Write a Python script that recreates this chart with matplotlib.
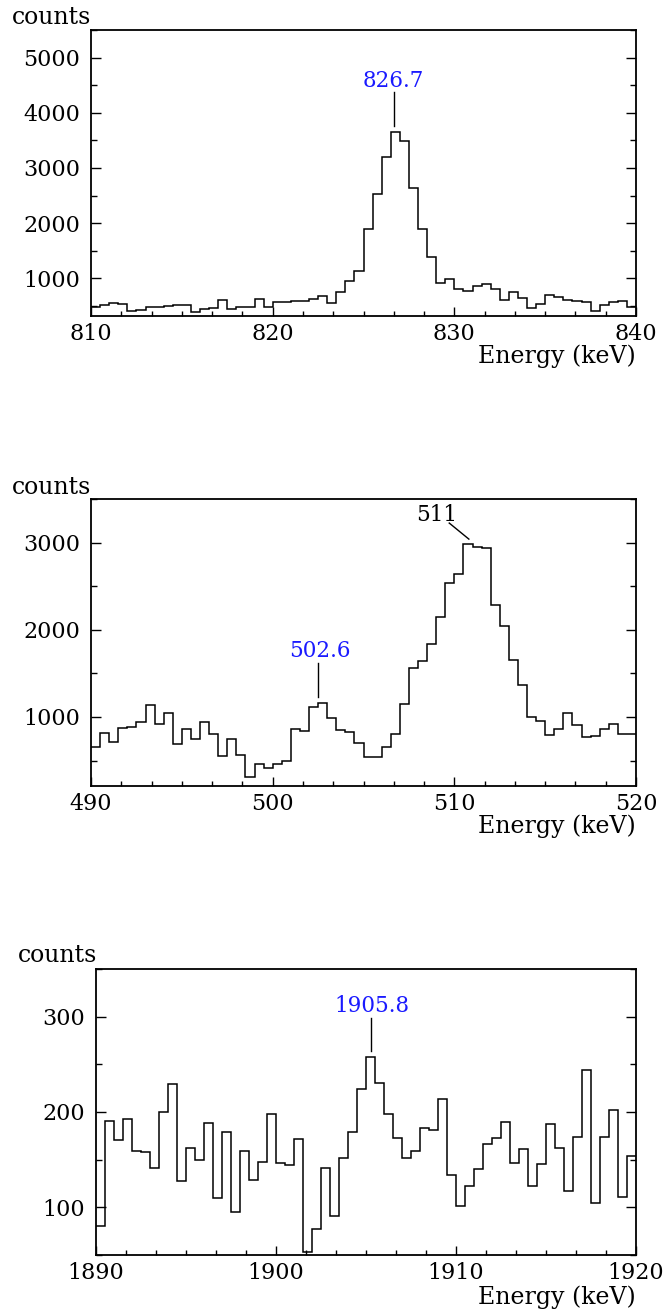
"""
Three gamma-ray spectrum panels (counts vs energy), ROOT-style histograms.
"""

import numpy as np
import matplotlib
matplotlib.use('Agg')
import matplotlib.pyplot as plt
from matplotlib.ticker import MultipleLocator, AutoMinorLocator

plt.rcParams['font.family'] = ['DejaVu Serif']

# Panel 1: 810-840 keV, 0.5 keV bins
range1 = (810, 840)
counts1 = [475, 517, 559, 535, 408, 426, 475, 475, 499, 511,
           511, 384, 438, 456, 607, 438, 475, 487, 619, 487,
           577, 577, 583, 589, 619, 680, 547, 758, 958, 1133,
           1888, 2528, 3199, 3658, 3495, 2631, 1900, 1393, 915, 994,
           801, 777, 867, 897, 801, 607, 758, 638, 468, 535,
           698, 656, 607, 589, 577, 414, 517, 577, 595, 487]

# Panel 2: 490-520 keV
range2 = (490, 520)
counts2 = [652, 820, 709, 870, 889, 939, 1134, 916, 1050, 686,
           858, 751, 939, 801, 552, 751, 564, 307, 460, 414,
           460, 499, 866, 843, 1119, 1157, 985, 851, 824, 700,
           544, 544, 652, 801, 1145, 1567, 1643, 1835, 2145, 2535,
           2642, 2983, 2945, 2933, 2286, 2045, 1655, 1367, 1004, 954,
           793, 862, 1042, 904, 766, 786, 862, 916, 809, 809]

# Panel 3: 1890-1920 keV
range3 = (1890, 1920)
counts3 = [80, 191, 171, 193, 159, 158, 141, 200, 229, 128,
           162, 150, 188, 110, 179, 95, 159, 129, 148, 198,
           147, 144, 172, 53, 77, 141, 91, 152, 179, 224,
           258, 230, 198, 173, 152, 159, 183, 181, 214, 134,
           101, 122, 140, 166, 173, 190, 147, 161, 122, 145,
           187, 162, 117, 174, 244, 105, 174, 202, 111, 154]

W, H = 666, 1311
fig = plt.figure(figsize=(W / 100, H / 100), dpi=100)


def px_axes(left, right, top, bottom):
    return fig.add_axes([left / W, 1 - bottom / H, (right - left) / W, (bottom - top) / H])


def style(ax, xr, ylim, ymaj, ymin):
    ax.set_xlim(*xr)
    ax.set_ylim(*ylim)
    ax.xaxis.set_major_locator(MultipleLocator(10))
    ax.xaxis.set_minor_locator(AutoMinorLocator(6))
    ax.yaxis.set_major_locator(MultipleLocator(ymaj))
    ax.yaxis.set_minor_locator(MultipleLocator(ymin))
    ax.tick_params(axis='x', which='major', direction='in', length=6.5, width=1.0,
                   labelsize=16, pad=5, top=False)
    ax.tick_params(axis='x', which='minor', direction='in', length=3.5, width=1.0, top=False)
    ax.tick_params(axis='y', which='major', direction='in', length=7, width=1.0,
                   labelsize=16, pad=8, right=True)
    ax.tick_params(axis='y', which='minor', direction='in', length=4, width=1.0, right=True)
    for s in ax.spines.values():
        s.set_linewidth(1.3)


def draw(ax, xr, counts):
    edges = np.linspace(xr[0], xr[1], len(counts) + 1)
    ax.stairs(counts, edges, baseline=None, color='black', linewidth=1.1)


# top panel
ax1 = px_axes(91, 636, 30, 316)
draw(ax1, range1, counts1)
style(ax1, range1, (317, 5500), 1000, 500)
ax1.plot([826.7, 826.7], [3759, 4375], color='black', lw=1.0)
ax1.text(826.62, 4470, '826.7', color='#1a1aff', fontsize=15.5, ha='center', va='baseline')
fig.text(52 / W, 1 - 17 / H, 'counts', fontsize=17, ha='center', va='center')
fig.text(636 / W, 1 - 356 / H, 'Energy (keV)', fontsize=17, ha='right', va='center')

# middle panel
ax2 = px_axes(91, 636, 499, 786)
draw(ax2, range2, counts2)
style(ax2, range2, (208, 3500), 1000, 500)
ax2.plot([502.5, 502.5], [1226, 1616], color='black', lw=1.0)
ax2.text(502.6, 1693, '502.6', color='#1a1aff', fontsize=15.5, ha='center', va='baseline')
ax2.plot([509.72, 510.8], [3224, 3040], color='black', lw=1.0)
ax2.text(509.03, 3243, '511', color='black', fontsize=15.5, ha='center', va='baseline')
fig.text(52 / W, 1 - 487 / H, 'counts', fontsize=17, ha='center', va='center')
fig.text(636 / W, 1 - 826 / H, 'Energy (keV)', fontsize=17, ha='right', va='center')

# bottom panel
ax3 = px_axes(96, 636, 969, 1255)
draw(ax3, range3, counts3)
style(ax3, range3, (50, 350), 100, 50)
ax3.plot([1905.28, 1905.28], [264, 299], color='black', lw=1.0)
ax3.text(1905.36, 305, '1905.8', color='#1a1aff', fontsize=15.5, ha='center', va='baseline')
fig.text(58 / W, 1 - 955 / H, 'counts', fontsize=17, ha='center', va='center')
fig.text(636 / W, 1 - 1297 / H, 'Energy (keV)', fontsize=17, ha='right', va='center')

fig.savefig('out.png', dpi=100)
